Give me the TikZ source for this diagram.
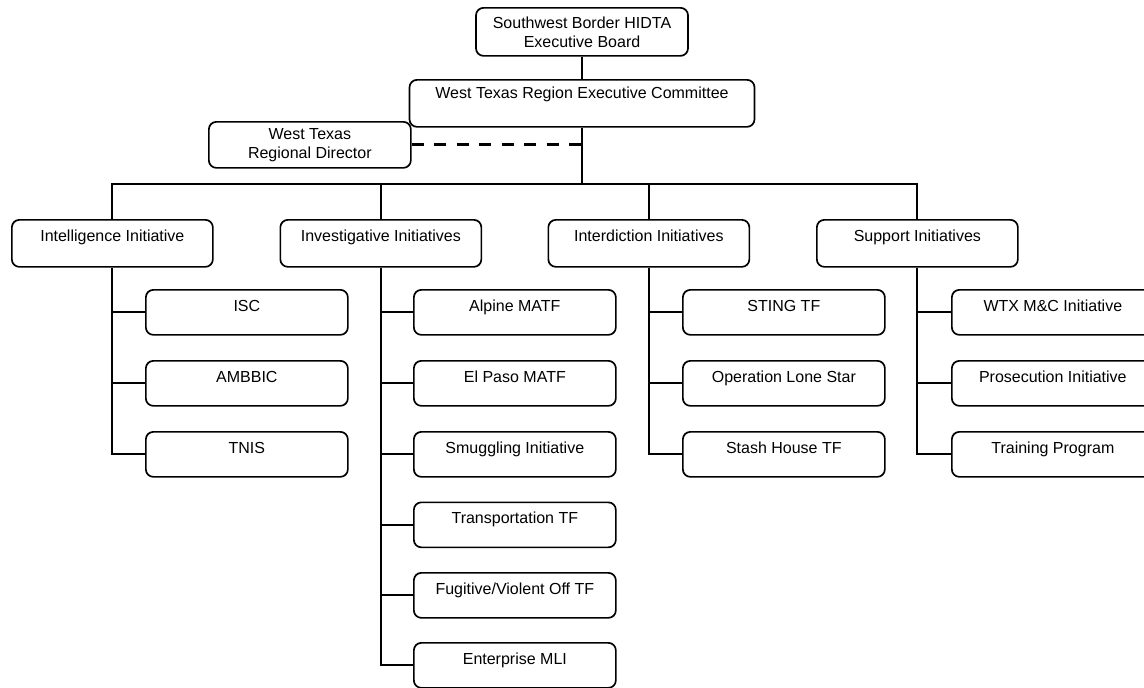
\documentclass[tikz,border=0pt]{standalone}
\usepackage{fontspec}
\setmainfont{Liberation Sans}
\begin{document}
\begin{tikzpicture}[x=1pt,y=-1pt,
  base/.style={draw, line width=1.7pt, rounded corners=7.5pt, inner xsep=0pt, inner ysep=0pt,
    font=\fontsize{16}{19}\selectfont, anchor=north west},
  kid/.style={base, minimum width=202pt, text height=21.5pt, text depth=23.5pt},
  head/.style={base, minimum width=201pt, text height=21.5pt, text depth=25.5pt},
  link/.style={line width=1.8pt},
  dashlink/.style={line width=2.8pt, dash pattern=on 12pt off 10.5pt}]
\useasboundingbox (0,0) rectangle (1144,688);
\clip (0,0) rectangle (1144,688);

% top levels
\node[base, minimum width=212pt, minimum height=48pt, align=center, anchor=north] (top) at (582,7)
  {Southwest Border HIDTA\\Executive Board};
\node[base, minimum width=345pt, text height=18.5pt, text depth=28.5pt, anchor=north] (comm) at (582,79)
  {West Texas Region Executive Committee};
\node[base, minimum width=202pt, minimum height=46pt, align=center] (dir) at (208,121)
  {West Texas\\Regional Director};

% initiatives
\node[head] (intel) at (11,219) {Intelligence Initiative};
\node[head] (invest) at (279.5,219) {Investigative Initiatives};
\node[head] (interd) at (547.5,219) {Interdiction Initiatives};
\node[head] (supp) at (816,219) {Support Initiatives};

% intelligence children
\node[kid] (isc) at (145,289) {ISC};
\node[kid] (amb) at (145,360) {AMBBIC};
\node[kid] (tnis) at (145,431) {TNIS};

% investigative children
\node[kid] (alp) at (413,289) {Alpine MATF};
\node[kid] (elp) at (413,360) {El Paso MATF};
\node[kid] (smu) at (413,431) {Smuggling Initiative};
\node[kid] (tra) at (413,501.5) {Transportation TF};
\node[kid] (fug) at (413,572) {Fugitive/Violent Off TF};
\node[kid] (ent) at (413,642) {Enterprise MLI};

% interdiction children
\node[kid] (sting) at (682,289) {STING TF};
\node[kid] (ols) at (682,360) {Operation Lone Star};
\node[kid] (stash) at (682,431) {Stash House TF};

% support children
\node[kid] (wtx) at (951,289) {WTX M\&C Initiative};
\node[kid] (pros) at (951,360) {Prosecution Initiative};
\node[kid] (train) at (951,431) {Training Program};

% connectors top
\draw[link] (top.south) -- (comm.north);
\coordinate (bus) at (582,184);
\draw[link] (comm.south) -- (bus);
\draw[dashlink] (dir.east) -- (dir.east -| comm.south);
\draw[link] (intel.north) |- (bus) -| (supp.north);
\draw[link] (invest.north) -- (invest.north |- bus);
\draw[link] (interd.north) -- (interd.north |- bus);

% children connectors
\draw[link] (intel.south) |- (tnis.west);
\draw[link] (intel.south |- isc.west) -- (isc.west);
\draw[link] (intel.south |- amb.west) -- (amb.west);

\draw[link] (invest.south) |- (ent.west);
\foreach \n in {alp,elp,smu,tra,fug}
  \draw[link] (invest.south |- \n.west) -- (\n.west);

\draw[link] (interd.south) |- (stash.west);
\draw[link] (interd.south |- sting.west) -- (sting.west);
\draw[link] (interd.south |- ols.west) -- (ols.west);

\draw[link] (supp.south) |- (train.west);
\draw[link] (supp.south |- wtx.west) -- (wtx.west);
\draw[link] (supp.south |- pros.west) -- (pros.west);
\end{tikzpicture}
\end{document}
